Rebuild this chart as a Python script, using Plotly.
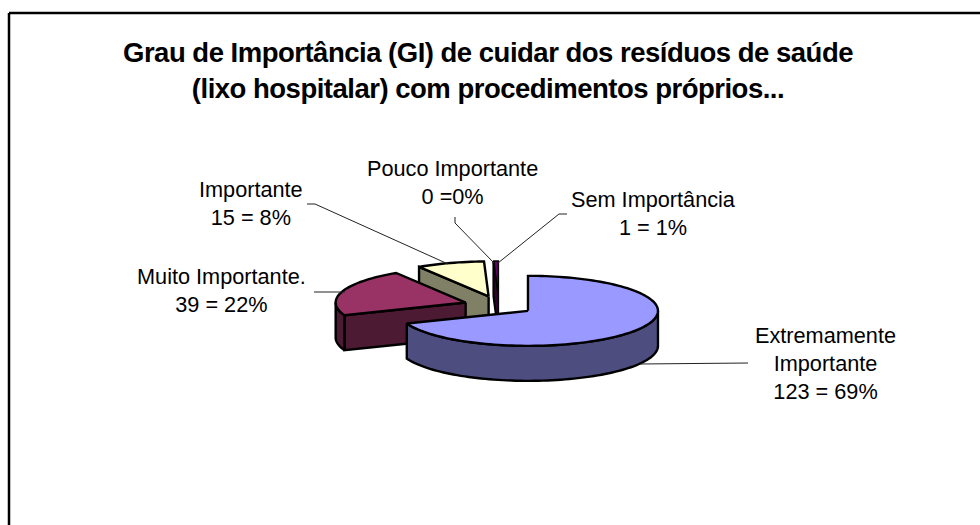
import math
import plotly.graph_objects as go

# --- data ---
categories = ["Extremamente Importante", "Muito Importante.", "Importante", "Pouco Importante", "Sem Importância"]
values = [123, 39, 15, 0, 1]
label_texts = ["Extremamente<br>Importante<br>123 = 69%", "Muito Importante.<br>39 = 22%",
               "Importante<br>15 = 8%", "Pouco Importante<br>0 =0%", "Sem Importância<br>1 = 1%"]
top_colors = ["#9999FF", "#993366", "#FFFFCC", "#CCFFFF", "#660066"]
side_colors = ["#4D4D80", "#4D1A33", "#808066", "#668080", "#330033"]
title_text = "Grau de Importância (GI) de cuidar dos resíduos de saúde<br>(lixo hospitalar) com procedimentos próprios..."

# --- layout geometry (pixels of the 980x525 page) ---
CX, CY, RX, RY, DEPTH, EXPLODE = 499, 305.5, 130, 35, 35, 0.27
label_pos = [(825, 363), (221, 290), (251, 203), (452, 182), (653, 213)]
leaders = [[(748, 363), (640, 364)],
           [(314, 292), (345, 292)],
           [(307, 204), (315, 204), (448, 264)],
           [(455, 217), (455, 223), (494, 263)],
           [(567, 214), (559, 214), (498, 263)]]
FONT = "Liberation Sans, Arial, sans-serif"

total = sum(values)
spans = []
a = 0.0
for v in values:
    spans.append((a, a + 360.0 * v / total))
    a += 360.0 * v / total


def pt(cx, cy, deg, dz=0.0):
    t = math.radians(deg)
    return cx + RX * math.sin(t), cy - RY * math.cos(t) + dz


def arc(cx, cy, a0, a1, dz=0.0):
    n = max(2, int(abs(a1 - a0) / 2) + 2)
    return [pt(cx, cy, a0 + (a1 - a0) * i / (n - 1), dz) for i in range(n)]


fig = go.Figure()


def poly(points, color, width=2.0):
    fig.add_trace(go.Scatter(
        x=[p[0] for p in points] + [points[0][0]],
        y=[p[1] for p in points] + [points[0][1]],
        mode="lines", fill="toself", fillcolor=color,
        line=dict(color="black", width=width, simplify=False),
        hoverinfo="skip", showlegend=False))


# back to front: the last slices are furthest behind
for i in [3, 4, 2, 1, 0]:
    a0, a1 = spans[i]
    mid = math.radians((a0 + a1) / 2)
    cx = CX + EXPLODE * RX * math.sin(mid)
    cy = CY - EXPLODE * RY * math.cos(mid)
    w = 1.5 if values[i] < 5 else 2.4
    # cut face at the start of the slice, when it looks towards the viewer
    if math.sin(math.radians(a0)) < 0:
        s = pt(cx, cy, a0)
        poly([(cx, cy), s, (s[0], s[1] + DEPTH), (cx, cy + DEPTH)], side_colors[i], w)
    # outer wall, front half of the ellipse only
    w0, w1 = max(a0, 90), min(a1, 270)
    if w1 > w0:
        poly(arc(cx, cy, w0, w1) + arc(cx, cy, w1, w0, DEPTH), side_colors[i], w)
    # top face
    poly([(cx, cy)] + arc(cx, cy, a0, a1), top_colors[i], w)

shapes = [
    dict(type="line", xref="x", yref="y", x0=9, y0=13, x1=980, y1=13, line=dict(color="black", width=2.5)),
    dict(type="line", xref="x", yref="y", x0=9, y0=13, x1=9, y1=525, line=dict(color="black", width=2.5)),
]
for path in leaders:
    for p, q in zip(path, path[1:]):
        shapes.append(dict(type="line", xref="x", yref="y", x0=p[0], y0=p[1], x1=q[0], y1=q[1],
                           line=dict(color="#222222", width=1)))

annotations = [dict(x=x, y=y, xref="x", yref="y", text=t, showarrow=False, xanchor="center", yanchor="middle",
                    align="center", font=dict(family=FONT, size=21.7, color="black"))
               for t, (x, y) in zip(label_texts, label_pos)]

fig.update_layout(
    width=980, height=525, autosize=False,
    margin=dict(l=0, r=0, t=0, b=0),
    paper_bgcolor="white", plot_bgcolor="white",
    xaxis=dict(range=[0, 980], visible=False, fixedrange=True),
    yaxis=dict(range=[525, 0], visible=False, fixedrange=True),
    shapes=shapes, annotations=annotations, showlegend=False,
    title=dict(text="<b>" + title_text + "</b>", x=488 / 980, xanchor="center", xref="paper",
               y=1 - 62 / 525, yanchor="middle", yref="paper",
               font=dict(family=FONT, size=27.5, color="black")),
)
post = """
document.body.style.margin = '0';
document.body.style.overflow = 'hidden';
document.querySelectorAll('.gtitle').forEach(function (e) { e.style.letterSpacing = '-0.5px'; });
"""
fig.write_html("out.html", post_script=post, config=dict(displayModeBar=False))
